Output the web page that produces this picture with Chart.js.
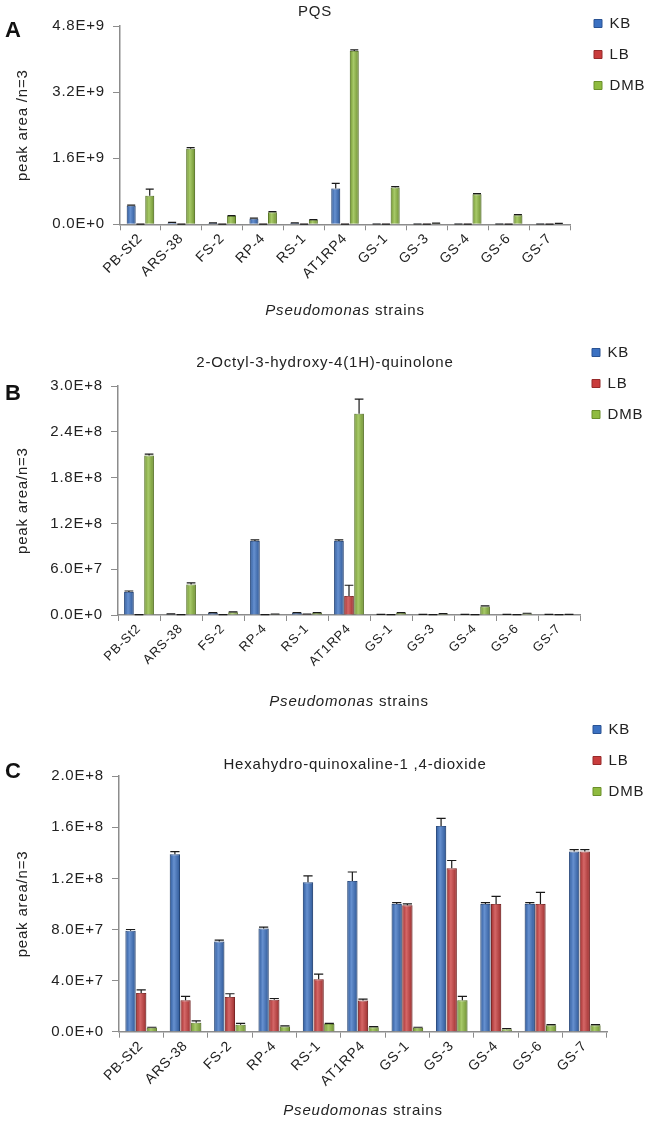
<!DOCTYPE html>
<html>
<head>
<meta charset="utf-8">
<script src="https://cdn.jsdelivr.net/npm/chart.js@4.4.1/dist/chart.umd.min.js"></script>
<style>
  html, body { margin: 0; padding: 0; background: #fff; }
  body { width: 648px; height: 1123px; position: relative; overflow: hidden; }
  .panel { position: absolute; left: 0; width: 648px; }
  .tag { position: absolute; left: 5px; font: bold 22px 'Liberation Sans', Arial, sans-serif; line-height: 22px; color: #111; }
</style>
</head>
<body>
<div class="panel" style="top:0;height:325px"><canvas id="chartA"></canvas></div>
<div class="panel" style="top:330px;height:385px"><canvas id="chartB"></canvas></div>
<div class="panel" style="top:705px;height:418px"><canvas id="chartC"></canvas></div>
<div class="tag" style="top:19px">A</div>
<div class="tag" style="top:382px">B</div>
<div class="tag" style="top:760px">C</div>
<script>
const strains = ['PB-St2', 'ARS-38', 'FS-2', 'RP-4', 'RS-1', 'AT1RP4', 'GS-1', 'GS-3', 'GS-4', 'GS-6', 'GS-7'];
const mediaNames = ['KB', 'LB', 'DMB'];
const xTitleItalic = 'Pseudomonas';
const xTitleRest = ' strains';

// A - PQS
const pqsKB = [4.5e8, 4.0e7, 3.0e7, 1.35e8, 3.0e7, 8.7e8, 5e6, 5e6, 5e6, 5e6, 5e6];
const pqsKBErr = [1.5e7, 5e6, 5e6, 1.5e7, 5e6, 1.2e8, 2e6, 2e6, 2e6, 2e6, 2e6];
const pqsLB = [3e6, 3e6, 3e6, 3e6, 3e6, 3e6, 3e6, 3e6, 3e6, 3e6, 3e6];
const pqsLBErr = [1e6, 1e6, 1e6, 1e6, 1e6, 1e6, 1e6, 1e6, 1e6, 1e6, 1e6];
const pqsDMB = [6.9e8, 1.83e9, 2.0e8, 2.9e8, 1.1e8, 4.2e9, 8.9e8, 2.5e7, 7.3e8, 2.2e8, 1.5e7];
const pqsDMBErr = [1.6e8, 3e7, 1e7, 1.5e7, 5e6, 2.5e7, 2.5e7, 5e6, 1.5e7, 1.5e7, 5e6];
const pqsTicks = [0, 1.6e9, 3.2e9, 4.8e9];
const pqsTickLabels = ['0.0E+0', '1.6E+9', '3.2E+9', '4.8E+9'];

// B - 2-Octyl-3-hydroxy-4(1H)-quinolone
const ohqKB = [3.0e7, 1.0e6, 2.5e6, 9.7e7, 2.5e6, 9.7e7, 5e5, 5e5, 5e5, 5e5, 5e5];
const ohqKBErr = [1.5e6, 5e5, 5e5, 1.5e6, 5e5, 1.5e6, 2e5, 2e5, 2e5, 2e5, 2e5];
const ohqLB = [3e5, 3e5, 3e5, 3e5, 1.0e6, 2.5e7, 3e5, 3e5, 3e5, 3e5, 3e5];
const ohqLBErr = [1e5, 1e5, 1e5, 1e5, 3e5, 1.4e7, 1e5, 1e5, 1e5, 1e5, 1e5];
const ohqDMB = [2.09e8, 4.0e7, 3.5e6, 1.0e6, 2.5e6, 2.64e8, 2.5e6, 1.5e6, 1.1e7, 2.0e6, 5e5];
const ohqDMBErr = [2e6, 2e6, 5e5, 3e5, 5e5, 1.9e7, 5e5, 3e5, 1e6, 3e5, 2e5];
const ohqTicks = [0, 6e7, 1.2e8, 1.8e8, 2.4e8, 3.0e8];
const ohqTickLabels = ['0.0E+0', '6.0E+7', '1.2E+8', '1.8E+8', '2.4E+8', '3.0E+8'];

// C - Hexahydro-quinoxaline-1,4-dioxide
const hqdKB = [7.9e7, 1.39e8, 7.07e7, 8.08e7, 1.17e8, 1.18e8, 1.0e8, 1.61e8, 1.0e8, 1.0e8, 1.41e8];
const hqdKBErr = [1e6, 2e6, 1e6, 1e6, 5e6, 7e6, 1e6, 6e6, 1e6, 1e6, 1.5e6];
const hqdLB = [3.03e7, 2.46e7, 2.72e7, 2.5e7, 4.1e7, 2.45e7, 9.9e7, 1.28e8, 1.0e8, 1.0e8, 1.41e8];
const hqdLBErr = [2.5e6, 3e6, 2.5e6, 1e6, 4e6, 1e6, 1e6, 6e6, 6e6, 9e6, 1.5e6];
const hqdDMB = [3e6, 7e6, 5.5e6, 4e6, 6e6, 3.5e6, 3e6, 2.46e7, 2e6, 5e6, 5e6];
const hqdDMBErr = [5e5, 1.5e6, 1e6, 5e5, 5e5, 5e5, 5e5, 3e6, 5e5, 5e5, 5e5];
const hqdTicks = [0, 4e7, 8e7, 1.2e8, 1.6e8, 2.0e8];
const hqdTickLabels = ['0.0E+0', '4.0E+7', '8.0E+7', '1.2E+8', '1.6E+8', '2.0E+8'];

const FONT = "'Liberation Sans', Arial, sans-serif";
const TEXT = '#222';
const AXIS = '#8c8c8c';
const fills = ['#3b71c2', '#c93c3c', '#8fbb3f'];
const edges = ['#2a5393', '#962a2a', '#6a8f2a'];

// text in the reference is slightly letter-spaced
const spacing = {
  id: 'spacing',
  beforeUpdate(chart) { chart.ctx.letterSpacing = '0.8px'; },
  beforeDraw(chart) { chart.ctx.letterSpacing = '0.8px'; }
};

// shading + error bars on top of each bar
const errorBars = {
  id: 'errorBars',
  afterDatasetsDraw(chart) {
    const ctx = chart.ctx;
    const y = chart.scales.y;
    chart.data.datasets.forEach((ds, d) => {
      const meta = chart.getDatasetMeta(d);
      meta.data.forEach((bar, i) => {
        const left = bar.x - bar.width / 2;
        const g = ctx.createLinearGradient(left, 0, left + bar.width, 0);
        g.addColorStop(0, 'rgba(0,0,0,0.18)');
        g.addColorStop(0.4, 'rgba(255,255,255,0.22)');
        g.addColorStop(1, 'rgba(0,0,0,0.22)');
        ctx.save();
        ctx.fillStyle = g;
        ctx.fillRect(left, bar.y, bar.width, bar.base - bar.y);
        const err = ds.errors[i];
        const top = y.getPixelForValue(ds.data[i] + err);
        const cap = bar.width * 0.45;
        ctx.strokeStyle = '#1a1a1a';
        ctx.lineWidth = 1.2;
        ctx.beginPath();
        ctx.moveTo(bar.x, bar.y);
        ctx.lineTo(bar.x, top);
        ctx.moveTo(bar.x - cap, top);
        ctx.lineTo(bar.x + cap, top);
        ctx.stroke();
        ctx.restore();
      });
    });
  }
};

// put legend and title where the original has them
const placer = {
  id: 'placer',
  afterLayout(chart, args, o) {
    const lg = chart.legend;
    const pad = lg.options.labels.padding;
    const w = lg.width, h = 120;
    lg.left = o.legendX - pad; lg.right = lg.left + w;
    lg.top = o.legendY - pad - 7; lg.bottom = lg.top + h; lg.height = h;
    const tb = chart.titleBlock;
    const tw = tb.right - tb.left;
    tb.left = o.titleX - tw / 2; tb.right = o.titleX + tw / 2;
  }
};

const xTitle = {
  id: 'xTitle',
  afterDraw(chart, args, o) {
    const {ctx, chartArea} = chart;
    const cx = (chartArea.left + chartArea.right) / 2;
    const it = 'italic 15px ' + FONT, rg = '15px ' + FONT;
    ctx.save();
    ctx.letterSpacing = '0.8px';
    ctx.font = it; const w1 = ctx.measureText(xTitleItalic).width;
    ctx.font = rg; const w2 = ctx.measureText(xTitleRest).width;
    const x = cx - (w1 + w2) / 2;
    ctx.fillStyle = TEXT; ctx.textAlign = 'left'; ctx.textBaseline = 'middle';
    ctx.font = it; ctx.fillText(xTitleItalic, x, o.y);
    ctx.font = rg; ctx.fillText(xTitleRest, x + w1, o.y);
    ctx.restore();
  }
};

function makeChart(id, values, errs, ticks, tickLabels, title, yTitle, p) {
  new Chart(document.getElementById(id), {
    type: 'bar',
    data: {
      labels: strains,
      datasets: mediaNames.map((name, k) => ({
        label: name,
        data: values[k],
        errors: errs[k],
        backgroundColor: fills[k],
        borderColor: edges[k],
        borderWidth: 1,
        categoryPercentage: p.catPct,
        barPercentage: 0.96
      }))
    },
    options: {
      responsive: true,
      maintainAspectRatio: false,
      animation: false,
      layout: { padding: { left: 0, right: 648 - p.right, top: 0, bottom: 0 } },
      scales: {
        x: {
          grid: { drawOnChartArea: false, tickLength: 6, color: AXIS, offset: true },
          border: { color: AXIS, width: 1.5 },
          ticks: { color: TEXT, font: { family: FONT, size: p.xFont }, minRotation: p.rot, maxRotation: p.rot, autoSkip: false, padding: 0 },
          afterFit: s => { s.height = p.xHeight; }
        },
        y: {
          min: 0,
          max: ticks[ticks.length - 1],
          afterBuildTicks: s => { s.ticks = ticks.map(v => ({ value: v })); },
          grid: { drawOnChartArea: false, tickLength: 7, color: AXIS },
          border: { color: AXIS, width: 1.5 },
          ticks: { color: TEXT, font: { family: FONT, size: 15 }, padding: 8, callback: (v, i) => tickLabels[i] },
          title: { display: true, text: yTitle, color: TEXT, font: { family: FONT, size: 15 }, padding: { top: 14, bottom: 0 } },
          afterFit: s => { s.width = p.left; }
        }
      },
      plugins: {
        legend: {
          position: 'chartArea',
          fullSize: false,
          align: 'start',
          labels: { boxWidth: 8, boxHeight: 8, padding: 16, color: TEXT, font: { family: FONT, size: 15 } }
        },
        title: {
          display: true, text: title, color: TEXT,
          font: { family: FONT, size: 15, weight: 'normal' },
          padding: { top: p.tTop, bottom: p.tBottom }
        },
        tooltip: { enabled: false },
        placer: { legendX: p.legendX, legendY: p.legendY, titleX: p.titleX },
        xTitle: { y: p.xTitleY }
      }
    },
    plugins: [spacing, errorBars, placer, xTitle]
  });
}

makeChart('chartA', [pqsKB, pqsLB, pqsDMB], [pqsKBErr, pqsLBErr, pqsDMBErr], pqsTicks, pqsTickLabels,
  'PQS', 'peak area /n=3',
  { left: 120, right: 570, catPct: 0.68, rot: 45, xFont: 14, xHeight: 100.7, tTop: 2.6, tBottom: 5.6,
    legendX: 594, legendY: 23, titleX: 315, xTitleY: 310.7 });

makeChart('chartB', [ohqKB, ohqLB, ohqDMB], [ohqKBErr, ohqLBErr, ohqDMBErr], ohqTicks, ohqTickLabels,
  '2-Octyl-3-hydroxy-4(1H)-quinolone', 'peak area/n=3',
  { left: 118, right: 580, catPct: 0.72, rot: 45, xFont: 13, xHeight: 100, tTop: 23.6, tBottom: 14.6,
    legendX: 592, legendY: 22, titleX: 325, xTitleY: 372 });

makeChart('chartC', [hqdKB, hqdLB, hqdDMB], [hqdKBErr, hqdLBErr, hqdDMBErr], hqdTicks, hqdTickLabels,
  'Hexahydro-quinoxaline-1 ,4-dioxide', 'peak area/n=3',
  { left: 119, right: 607, catPct: 0.72, rot: 45, xFont: 14, xHeight: 91.3, tTop: 50.6, tBottom: 2.6,
    legendX: 593, legendY: 24, titleX: 355, xTitleY: 405.7 });
</script>
</body>
</html>
